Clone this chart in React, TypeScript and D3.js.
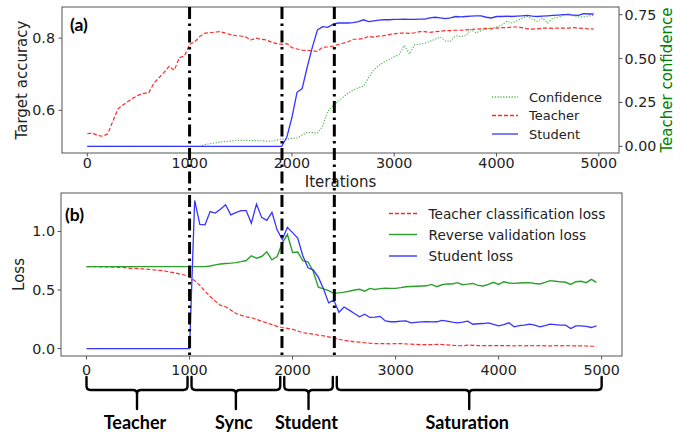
import React from "react";
import * as d3 from "d3";

const iterations = [
  0, 50, 100, 150, 200, 250, 300, 350, 400, 450,
  500, 550, 600, 650, 700, 750, 800, 850, 900, 950,
  1000, 1050, 1100, 1150, 1200, 1250, 1300, 1350, 1400, 1450,
  1500, 1550, 1600, 1650, 1700, 1750, 1800, 1850, 1900, 1950,
  2000, 2050, 2100, 2150, 2200, 2250, 2300, 2350, 2400, 2450,
  2500, 2550, 2600, 2650, 2700, 2750, 2800, 2850, 2900, 2950,
  3000, 3050, 3100, 3150, 3200, 3250, 3300, 3350, 3400, 3450,
  3500, 3550, 3600, 3650, 3700, 3750, 3800, 3850, 3900, 3950,
  4000, 4050, 4100, 4150, 4200, 4250, 4300, 4350, 4400, 4450,
  4500, 4550, 4600, 4650, 4700, 4750, 4800, 4850, 4900, 4950,
];

const teacherAcc = [
  0.535, 0.537, 0.53, 0.528, 0.535, 0.57, 0.604, 0.615, 0.625, 0.634,
  0.642, 0.647, 0.648, 0.675, 0.69, 0.705, 0.722, 0.711, 0.746, 0.751,
  0.783, 0.79, 0.805, 0.814, 0.815, 0.817, 0.818, 0.814, 0.81, 0.807,
  0.806, 0.803, 0.795, 0.8, 0.797, 0.795, 0.789, 0.785, 0.783, 0.785,
  0.774, 0.77, 0.767, 0.766, 0.765, 0.763, 0.775, 0.776, 0.778, 0.782,
  0.786, 0.79, 0.797, 0.797, 0.799, 0.805, 0.803, 0.806, 0.807, 0.81,
  0.812, 0.814, 0.814, 0.813, 0.815, 0.818, 0.818, 0.816, 0.818, 0.819,
  0.821, 0.821, 0.822, 0.822, 0.823, 0.824, 0.825, 0.826, 0.827, 0.826,
  0.828, 0.829, 0.829, 0.831, 0.831, 0.829, 0.826, 0.825, 0.826, 0.828,
  0.828, 0.827, 0.828, 0.828, 0.828, 0.829, 0.828, 0.827, 0.826, 0.825,
];

const studentAcc = [
  0.5, 0.5, 0.5, 0.5, 0.5, 0.5, 0.5, 0.5, 0.5, 0.5,
  0.5, 0.5, 0.5, 0.5, 0.5, 0.5, 0.5, 0.5, 0.5, 0.5,
  0.5, 0.5, 0.5, 0.5, 0.5, 0.5, 0.5, 0.5, 0.5, 0.5,
  0.5, 0.5, 0.5, 0.5, 0.5, 0.5, 0.5, 0.5, 0.5, 0.525,
  0.58, 0.65, 0.66, 0.72, 0.775, 0.823, 0.832, 0.83, 0.838, 0.842,
  0.842, 0.842, 0.843, 0.846, 0.851, 0.846, 0.848, 0.85, 0.851, 0.851,
  0.852, 0.852, 0.853, 0.852, 0.852, 0.853, 0.853, 0.856, 0.858, 0.856,
  0.854, 0.856, 0.86, 0.859, 0.86, 0.861, 0.862, 0.862, 0.858, 0.856,
  0.86, 0.86, 0.861, 0.86, 0.861, 0.862, 0.863, 0.861, 0.86, 0.861,
  0.862, 0.863, 0.864, 0.865, 0.865, 0.864, 0.863, 0.868, 0.867, 0.867,
];

const teacherConfidence = [
  0, 0, 0, 0, 0, 0, 0, 0, 0, 0,
  0, 0, 0, 0, 0, 0, 0, 0, 0, 0,
  0, 0, 0, 0.01, 0.015, 0.02, 0.025, 0.028, 0.03, 0.034,
  0.034, 0.034, 0.033, 0.033, 0.032, 0.03, 0.029, 0.035, 0.042, 0.04,
  0.045, 0.048, 0.065, 0.08, 0.078, 0.076, 0.114, 0.2, 0.23, 0.256,
  0.28, 0.304, 0.32, 0.335, 0.342, 0.39, 0.437, 0.46, 0.48, 0.494,
  0.51, 0.525, 0.575, 0.526, 0.579, 0.582, 0.587, 0.598, 0.61, 0.623,
  0.6, 0.598, 0.63, 0.626, 0.63, 0.665, 0.646, 0.66, 0.668, 0.674,
  0.68, 0.69, 0.712, 0.703, 0.715, 0.73, 0.74, 0.725, 0.712, 0.731,
  0.703, 0.73, 0.735, 0.745, 0.756, 0.745, 0.737, 0.737, 0.742, 0.746,
];

const teacherLoss = [
  0.7, 0.7, 0.699, 0.698, 0.697, 0.696, 0.694, 0.693, 0.688, 0.685,
  0.682, 0.68, 0.677, 0.672, 0.668, 0.664, 0.655, 0.648, 0.638, 0.628,
  0.612, 0.58, 0.54, 0.49, 0.445, 0.405, 0.37, 0.357, 0.33, 0.3,
  0.285, 0.271, 0.264, 0.25, 0.232, 0.22, 0.205, 0.19, 0.18, 0.172,
  0.165, 0.15, 0.136, 0.128, 0.124, 0.115, 0.109, 0.1, 0.092, 0.08,
  0.071, 0.065, 0.058, 0.056, 0.05, 0.046, 0.043, 0.042, 0.043, 0.041,
  0.042, 0.043, 0.04, 0.038, 0.036, 0.034, 0.033, 0.034, 0.036, 0.035,
  0.032, 0.028, 0.026, 0.024, 0.03, 0.028, 0.026, 0.025, 0.026, 0.025,
  0.025, 0.026, 0.025, 0.024, 0.025, 0.024, 0.025, 0.024, 0.025, 0.024,
  0.023, 0.025, 0.024, 0.025, 0.024, 0.023, 0.024, 0.022, 0.02, 0.02,
];

const reverseValidationLoss = [
  0.7, 0.7, 0.7, 0.7, 0.7, 0.7, 0.7, 0.7, 0.7, 0.7,
  0.7, 0.7, 0.7, 0.7, 0.7, 0.7, 0.7, 0.7, 0.7, 0.7,
  0.7, 0.7, 0.7, 0.7, 0.705, 0.715, 0.722, 0.727, 0.73, 0.734,
  0.742, 0.752, 0.792, 0.772, 0.786, 0.826, 0.758, 0.786, 0.9, 0.975,
  0.82, 0.825, 0.75, 0.74, 0.66, 0.525, 0.51, 0.495, 0.472, 0.476,
  0.482, 0.49, 0.5, 0.506, 0.49, 0.514, 0.505, 0.512, 0.515, 0.514,
  0.514, 0.52, 0.528, 0.53, 0.532, 0.534, 0.536, 0.548, 0.528, 0.545,
  0.552, 0.552, 0.563, 0.545, 0.55, 0.556, 0.54, 0.534, 0.548, 0.566,
  0.548, 0.571, 0.56, 0.557, 0.56, 0.562, 0.563, 0.556, 0.552, 0.565,
  0.58, 0.575, 0.57, 0.566, 0.548, 0.571, 0.575, 0.563, 0.591, 0.566,
];

const studentLoss = [
  0, 0, 0, 0, 0, 0, 0, 0, 0, 0,
  0, 0, 0, 0, 0, 0, 0, 0, 0, 0,
  0, 1.265, 1.06, 1.057, 1.17, 1.157, 1.19, 1.228, 1.142, 1.16,
  1.178, 1.178, 1.07, 1.234, 1.12, 1.095, 1.163, 1.014, 0.932, 1.035,
  0.99, 0.943, 0.79, 0.69, 0.672, 0.61, 0.51, 0.39, 0.414, 0.31,
  0.355, 0.328, 0.3, 0.271, 0.294, 0.266, 0.268, 0.275, 0.236, 0.229,
  0.229, 0.234, 0.237, 0.22, 0.224, 0.228, 0.23, 0.228, 0.229, 0.24,
  0.235, 0.226, 0.22, 0.226, 0.234, 0.208, 0.212, 0.214, 0.22, 0.206,
  0.194, 0.205, 0.22, 0.186, 0.196, 0.2, 0.208, 0.2, 0.186, 0.196,
  0.208, 0.205, 0.2, 0.2, 0.171, 0.194, 0.194, 0.19, 0.18, 0.194,
];

const xTicks = [0, 1000, 2000, 3000, 4000, 5000];
const accTicks = [0.6, 0.8];
const confTicks = [0, 0.25, 0.5, 0.75];
const lossTicks = [0, 0.5, 1.0];
const phaseBounds = [0, 1000, 1900, 2410, 5000];
const phaseNames = ["Teacher", "Sync", "Student", "Saturation"];
const dividers = [1000, 1900, 2410];

const TICK_FONT = "'DejaVu Sans', sans-serif";
const BOLD_FONT = "Lato, 'Open Sans', sans-serif";

const pad = (lo: number, hi: number): [number, number] => {
  const m = (hi - lo) * 0.05;
  return [lo - m, hi + m];
};

const T = { l: 62, r: 619, t: 7, b: 153 };
const B = { l: 61, r: 622, t: 193, b: 356 };

const RED = "#ff2b2b";
const BLUE = "#3535ff";
const GREEN = "#2ca02c";

export default function App() {
  const xExt = d3.extent(iterations) as [number, number];
  const xTop = d3.scaleLinear().domain(pad(xExt[0], xExt[1])).range([T.l, T.r]);
  const xBot = d3.scaleLinear().domain(pad(xExt[0], xExt[1])).range([B.l, B.r]);
  const accAll = teacherAcc.concat(studentAcc);
  const yAcc = d3.scaleLinear().domain(pad(d3.min(accAll)!, d3.max(accAll)!)).range([T.b, T.t]);
  const yConf = d3
    .scaleLinear()
    .domain(pad(d3.min(teacherConfidence)!, d3.max(teacherConfidence)!))
    .range([T.b, T.t]);
  const lossAll = teacherLoss.concat(reverseValidationLoss, studentLoss);
  const yLoss = d3.scaleLinear().domain(pad(d3.min(lossAll)!, d3.max(lossAll)!)).range([B.b, B.t]);

  const mkLine = (xs: d3.ScaleLinear<number, number>, ys: d3.ScaleLinear<number, number>, vals: number[]) =>
    d3
      .line<number>()
      .x((_, i) => xs(iterations[i]))
      .y((v) => ys(v))(vals) || "";

  const yTop = 377;
  const yMid = 390;
  const yTip = 409;
  const r = 4;
  const bracePath = (xa: number, xb: number) => {
    const xc = (xa + xb) / 2;
    return (
      `M${xa},${yTop} L${xa},${yMid - r} Q${xa},${yMid} ${xa + r},${yMid} L${xc - r},${yMid} Q${xc},${yMid} ${xc},${yMid + r} L${xc},${yTip} ` +
      `M${xb},${yTop} L${xb},${yMid - r} Q${xb},${yMid} ${xb - r},${yMid} L${xc + r},${yMid} Q${xc},${yMid} ${xc},${yMid + r}`
    );
  };

  const frame = "#555";
  const tickLen = 3.5;

  return (
    <svg
      width={684}
      height={432}
      viewBox="0 0 684 432"
      style={{ position: "absolute", left: 0, top: 0, background: "#fff" }}
    >
      <rect x={0} y={0} width={684} height={432} fill="#fff" />

      {/* ---------- Panel (a) ---------- */}
      <path d={mkLine(xTop, yConf, teacherConfidence)} fill="none" stroke={GREEN} strokeOpacity={0.8} strokeWidth={1.2} strokeDasharray="1.2,1.6" />
      <path d={mkLine(xTop, yAcc, teacherAcc)} fill="none" stroke={RED} strokeWidth={1.2} strokeDasharray="4,2" />
      <path d={mkLine(xTop, yAcc, studentAcc)} fill="none" stroke={BLUE} strokeWidth={1.3} />
      <rect x={T.l} y={T.t} width={T.r - T.l} height={T.b - T.t} fill="none" stroke={frame} strokeWidth={1} />

      {xTicks.map((t) => (
        <g key={"xt" + t}>
          <line x1={xTop(t)} x2={xTop(t)} y1={T.b} y2={T.b + tickLen} stroke={frame} />
          <text x={xTop(t)} y={163} textAnchor="middle" dominantBaseline="central" fontFamily={TICK_FONT} fontSize={14.3} fill="#222">
            {t}
          </text>
        </g>
      ))}
      {accTicks.map((t) => (
        <g key={"ya" + t}>
          <line x1={T.l - tickLen} x2={T.l} y1={yAcc(t)} y2={yAcc(t)} stroke={frame} />
          <text x={55} y={yAcc(t)} textAnchor="end" dominantBaseline="central" fontFamily={TICK_FONT} fontSize={14.3} fill="#222">
            {t.toFixed(1)}
          </text>
        </g>
      ))}
      {confTicks.map((t) => (
        <g key={"yc" + t}>
          <line x1={T.r} x2={T.r + tickLen} y1={yConf(t)} y2={yConf(t)} stroke={frame} />
          <text x={624.5} y={yConf(t)} textAnchor="start" dominantBaseline="central" fontFamily={TICK_FONT} fontSize={14.3} fill="#222">
            {t.toFixed(2)}
          </text>
        </g>
      ))}
      <text x={21.5} y={(T.t + T.b) / 2} transform={`rotate(-90, 21.5, ${(T.t + T.b) / 2})`} textAnchor="middle" dominantBaseline="central" fontFamily={TICK_FONT} fontSize={15} fill="#222">
        Target accuracy
      </text>
      <text x={667} y={(T.t + T.b) / 2} transform={`rotate(-90, 667, ${(T.t + T.b) / 2})`} textAnchor="middle" dominantBaseline="central" fontFamily={TICK_FONT} fontSize={15} fill="#008000">
        Teacher confidence
      </text>
      <text x={(T.l + T.r) / 2} y={182} textAnchor="middle" dominantBaseline="central" fontFamily={TICK_FONT} fontSize={15} fill="#222">
        Iterations
      </text>
      <text x={70} y={31} fontFamily={BOLD_FONT} fontWeight={700} fontSize={17.5} fill="#000">
        (a)
      </text>

      {/* legend (a) */}
      {[
        { label: "Confidence", color: GREEN, dash: "1.2,1.6", op: 0.8, y: 97 },
        { label: "Teacher", color: RED, dash: "4,2", op: 1, y: 115.5 },
        { label: "Student", color: BLUE, dash: "", op: 1, y: 134 },
      ].map((d) => (
        <g key={"la" + d.label}>
          <line x1={492} x2={518} y1={d.y} y2={d.y} stroke={d.color} strokeOpacity={d.op} strokeWidth={1.3} strokeDasharray={d.dash || undefined} />
          <text x={529} y={d.y} dominantBaseline="central" fontFamily={TICK_FONT} fontSize={13} fill="#222">
            {d.label}
          </text>
        </g>
      ))}

      {/* ---------- Panel (b) ---------- */}
      <path d={mkLine(xBot, yLoss, teacherLoss)} fill="none" stroke={RED} strokeWidth={1.2} strokeDasharray="4,2" />
      <path d={mkLine(xBot, yLoss, reverseValidationLoss)} fill="none" stroke={GREEN} strokeWidth={1.4} />
      <path d={mkLine(xBot, yLoss, studentLoss)} fill="none" stroke={BLUE} strokeWidth={1.3} />
      <rect x={B.l} y={B.t} width={B.r - B.l} height={B.b - B.t} fill="none" stroke={frame} strokeWidth={1} />

      {xTicks.map((t) => (
        <g key={"xb" + t}>
          <line x1={xBot(t)} x2={xBot(t)} y1={B.b} y2={B.b + tickLen} stroke={frame} />
          <text x={xBot(t)} y={370} textAnchor="middle" dominantBaseline="central" fontFamily={TICK_FONT} fontSize={14.3} fill="#222">
            {t}
          </text>
        </g>
      ))}
      {lossTicks.map((t) => (
        <g key={"yl" + t}>
          <line x1={B.l - tickLen} x2={B.l} y1={yLoss(t)} y2={yLoss(t)} stroke={frame} />
          <text x={55} y={yLoss(t)} textAnchor="end" dominantBaseline="central" fontFamily={TICK_FONT} fontSize={14.3} fill="#222">
            {t.toFixed(1)}
          </text>
        </g>
      ))}
      <text x={19} y={(B.t + B.b) / 2} transform={`rotate(-90, 19, ${(B.t + B.b) / 2})`} textAnchor="middle" dominantBaseline="central" fontFamily={TICK_FONT} fontSize={15} fill="#222">
        Loss
      </text>
      <text x={65} y={221} fontFamily={BOLD_FONT} fontWeight={700} fontSize={17.5} fill="#000">
        (b)
      </text>

      {/* legend (b) */}
      {[
        { label: "Teacher classification loss", color: RED, dash: "4,2", y: 213.5 },
        { label: "Reverse validation loss", color: GREEN, dash: "", y: 234.5 },
        { label: "Student loss", color: BLUE, dash: "", y: 256 },
      ].map((d) => (
        <g key={"lb" + d.label}>
          <line x1={389} x2={417} y1={d.y} y2={d.y} stroke={d.color} strokeWidth={1.4} strokeDasharray={d.dash || undefined} />
          <text x={428.5} y={d.y} dominantBaseline="central" fontFamily={TICK_FONT} fontSize={13.7} fill="#222">
            {d.label}
          </text>
        </g>
      ))}

      {/* phase dividers spanning both panels */}
      {dividers.map((d) => {
        const x = (xTop(d) + xBot(d)) / 2;
        return <line key={"dv" + d} x1={x} x2={x} y1={T.t} y2={B.b + 1} stroke="#000" strokeWidth={3} strokeDasharray="12,4.5,2.5,4.5" />;
      })}

      {/* braces and phase labels */}
      {phaseNames.map((name, i) => {
        const xa = xBot(phaseBounds[i]) + (i > 0 ? 2 : 0);
        const xb = xBot(phaseBounds[i + 1]) - (i < phaseNames.length - 1 ? 2 : 0);
        return (
          <g key={"ph" + name}>
            <path d={bracePath(xa, xb)} fill="none" stroke="#000" strokeWidth={2.4} strokeLinecap="round" strokeLinejoin="round" />
            <text x={(xa + xb) / 2 - 2} y={429} textAnchor="middle" fontFamily={BOLD_FONT} fontWeight={700} fontSize={18} fill="#000">
              {name}
            </text>
          </g>
        );
      })}
    </svg>
  );
}
